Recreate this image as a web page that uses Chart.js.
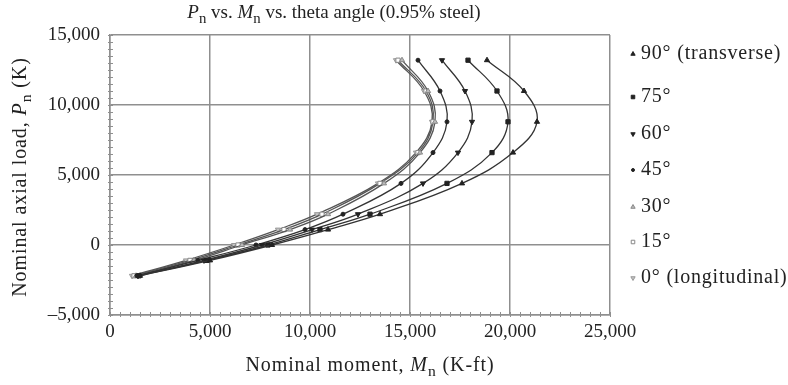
<!DOCTYPE html>
<html>
<head>
<meta charset="utf-8">
<script src="https://cdn.jsdelivr.net/npm/chart.js@4"></script>
<style>
  body { margin: 0; background: #fff; }
  #wrap { width: 788px; height: 385px; }
</style>
</head>
<body>
<div id="wrap"><canvas id="pmChart"></canvas></div>
<script>
// Axial load levels (K) where points were computed
const pLevels = [13200, 11000, 8800, 6600, 4400, 2200, 1100, 0, -1100, -2200];

// Nominal moment (K-ft) for each theta angle, same order as pLevels
const moment90 = [18850, 20700, 21350, 20150, 17600, 13500, 10900, 8100, 5000, 1500];
const moment75 = [17900, 19350, 19900, 19100, 16850, 13000, 10500, 7900, 4850, 1450];
const moment60 = [16600, 17750, 18100, 17400, 15650, 12400, 10100, 7600, 4700, 1400];
const moment45 = [15400, 16500, 16850, 16150, 14550, 11650, 9750, 7300, 4400, 1350];
const moment30 = [14600, 15900, 16250, 15500, 13700, 10900, 9000, 6600, 4200, 1300];
const moment15 = [14400, 15800, 16150, 15400, 13500, 10600, 8700, 6400, 4000, 1200];
const moment0 = [14300, 15700, 16100, 15300, 13400, 10350, 8400, 6200, 3800, 1100];

const angleLabels = ["90° (transverse)", "75°", "60°", "45°", "30°", "15°", "0° (longitudinal)"];
const xTicks = [0, 5000, 10000, 15000, 20000, 25000];
const yTicks = [-5000, 0, 5000, 10000, 15000];

const serif = "'Liberation Serif', 'DejaVu Serif', serif";
const gridGrey = "#8f8f8f";

// marker look per series (same order as angleLabels)
const markerStyles = [
  { style: "triangle", rot: 0, r: 3, fill: "#222", stroke: "#222", line: "#333" },
  { style: "rect", rot: 0, r: 3, fill: "#222", stroke: "#222", line: "#333" },
  { style: "triangle", rot: 180, r: 3, fill: "#222", stroke: "#222", line: "#333" },
  { style: "circle", rot: 0, r: 2, fill: "#222", stroke: "#222", line: "#333" },
  { style: "triangle", rot: 0, r: 3, fill: "#bbb", stroke: "#888", line: "#555" },
  { style: "rect", rot: 0, r: 3, fill: "#fff", stroke: "#888", line: "#555" },
  { style: "triangle", rot: 180, r: 3, fill: "#c4c4c4", stroke: "#999", line: "#555" }
];

const seriesMoments = [moment90, moment75, moment60, moment45, moment30, moment15, moment0];

const datasets = seriesMoments.map((moments, i) => {
  const m = markerStyles[i];
  return {
    label: angleLabels[i],
    data: moments.map((mv, j) => ({ x: mv, y: pLevels[j] })),
    showLine: true,
    tension: 0.4,
    borderColor: m.line,
    borderWidth: 1.3,
    pointStyle: m.style,
    rotation: m.rot,
    pointRadius: m.r,
    pointBackgroundColor: m.fill,
    pointBorderColor: m.stroke,
    pointBorderWidth: 1
  };
});

function fmt(v) {
  const s = Math.abs(v).toLocaleString("en-US");
  return v < 0 ? "\u2013" + s : s;
}

// draw text made of plain / italic / subscript parts, centred on x
function drawRich(ctx, parts, x, y, size, spacing) {
  const fontFor = p => (p.italic ? "italic " : "") + (p.sub ? size * 0.78 : size) + "px " + serif;
  ctx.letterSpacing = (spacing || 0) + "px";
  let total = 0;
  parts.forEach(p => {
    ctx.font = fontFor(p);
    total += ctx.measureText(p.t).width;
  });
  let cx = x - total / 2;
  ctx.textAlign = "left";
  ctx.textBaseline = "middle";
  parts.forEach(p => {
    ctx.font = fontFor(p);
    ctx.fillText(p.t, cx, p.sub ? y + size * 0.3 : y);
    cx += ctx.measureText(p.t).width;
  });
  ctx.letterSpacing = "0px";
}

const labelsPlugin = {
  id: "labels",
  beforeDatasetsDraw(chart) {
    const ctx = chart.ctx;
    const xs = chart.scales.x;
    const ys = chart.scales.y;
    const a = chart.chartArea;
    ctx.save();
    ctx.strokeStyle = gridGrey;
    ctx.lineWidth = 1;
    // minor ticks along left and bottom axes
    for (let v = -5000; v <= 15000; v += 500) {
      const py = Math.round(ys.getPixelForValue(v)) + 0.5;
      ctx.beginPath();
      ctx.moveTo(a.left - 2, py);
      ctx.lineTo(a.left + 3, py);
      ctx.stroke();
    }
    for (let v = 0; v <= 25000; v += 500) {
      const px = Math.round(xs.getPixelForValue(v)) + 0.5;
      ctx.beginPath();
      ctx.moveTo(px, a.bottom + 2);
      ctx.lineTo(px, a.bottom - 3);
      ctx.stroke();
    }
    ctx.restore();
  },
  afterDraw(chart) {
    const ctx = chart.ctx;
    ctx.save();
    ctx.fillStyle = "#222";
    drawRich(ctx, [
      { t: "P", italic: true }, { t: "n", sub: true },
      { t: " vs. " }, { t: "M", italic: true }, { t: "n", sub: true },
      { t: " vs. theta angle (0.95% steel)" }
    ], 334, 13, 19, 0);

    drawRich(ctx, [
      { t: "Nominal moment, " }, { t: "M", italic: true }, { t: "n", sub: true },
      { t: " (K-ft)" }
    ], 370, 366, 20, 0.9);

    ctx.translate(21, 177);
    ctx.rotate(-Math.PI / 2);
    drawRich(ctx, [
      { t: "Nominal axial load, " }, { t: "P", italic: true }, { t: "n", sub: true },
      { t: " (K)" }
    ], 0, 0, 20, 0.9);
    ctx.restore();

    // legend
    const legendY = [54, 97, 134, 170, 207, 242, 278];
    ctx.save();
    angleLabels.forEach((lab, i) => {
      const m = markerStyles[i];
      ctx.fillStyle = m.fill;
      ctx.strokeStyle = m.stroke;
      ctx.lineWidth = 1;
      Chart.helpers.drawPoint(ctx, { pointStyle: m.style, rotation: m.rot, radius: m.r - 0.5, borderWidth: 1 }, 633, legendY[i]);
      ctx.fillStyle = "#222";
      ctx.font = "20px " + serif;
      ctx.letterSpacing = "0.8px";
      ctx.textAlign = "left";
      ctx.textBaseline = "middle";
      ctx.fillText(lab, 641, legendY[i]);
      ctx.letterSpacing = "0px";
    });
    ctx.restore();
  }
};

new Chart(document.getElementById("pmChart"), {
  type: "scatter",
  data: { datasets },
  options: {
    responsive: true,
    maintainAspectRatio: false,
    animation: false,
    layout: { padding: { top: 35, right: 178, left: 0, bottom: 0 } },
    plugins: {
      legend: { display: false },
      tooltip: { enabled: false }
    },
    scales: {
      x: {
        type: "linear",
        min: 0,
        max: 25000,
        afterFit: s => { s.height = 70; },
        afterBuildTicks: s => { s.ticks = xTicks.map(v => ({ value: v })); },
        ticks: { callback: fmt, color: "#222", font: { family: serif, size: 19 }, padding: 6, maxRotation: 0 },
        grid: { color: gridGrey, lineWidth: 1.5, drawTicks: false },
        border: { color: gridGrey, width: 1.5 }
      },
      y: {
        type: "linear",
        min: -5000,
        max: 15000,
        afterFit: s => { s.width = 110; },
        afterBuildTicks: s => { s.ticks = yTicks.map(v => ({ value: v })); },
        ticks: { callback: fmt, color: "#222", font: { family: serif, size: 19 }, padding: 10 },
        grid: { color: gridGrey, lineWidth: 1.5, drawTicks: false },
        border: { color: gridGrey, width: 1.5 }
      }
    }
  },
  plugins: [labelsPlugin]
});
</script>
</body>
</html>
